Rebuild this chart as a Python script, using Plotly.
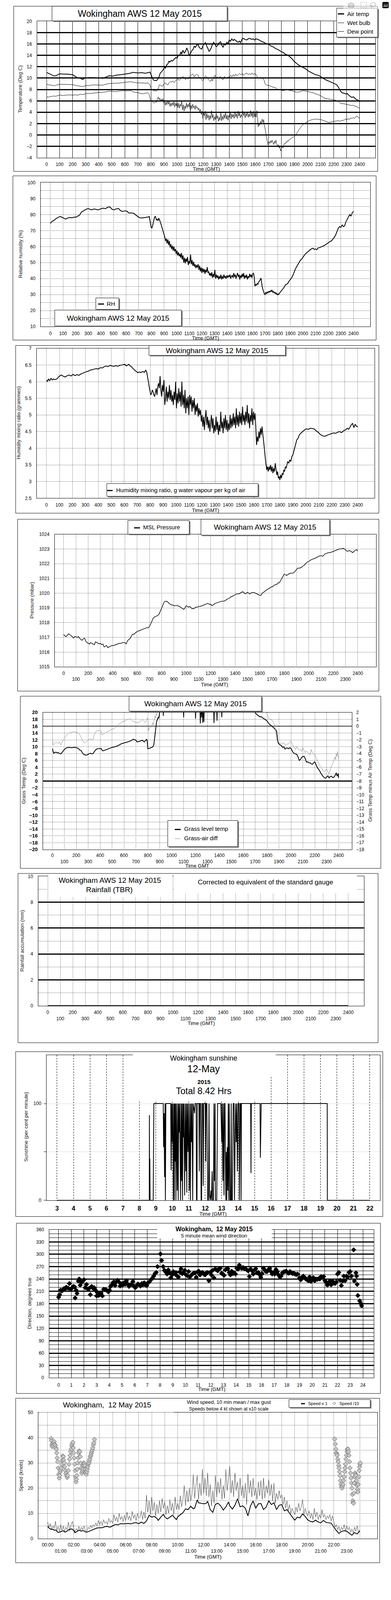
import plotly.graph_objects as go

# ======================= DATA =======================
# Panels 1-6: time axis in "HHMM-like" units (hour*100); panels 7-9: hours.

AIR_TEMP = [(0,11.0),(20,10.8),(40,10.6),(60,10.35),(80,10.5),(100,10.75),(130,10.7),(160,10.7),(200,10.6),(220,10.3),
 (240,10.0),(260,9.95),(277,9.75),(290,9.95),(305,10.05),(330,10.1),(360,10.1),(390,10.1),(411,10.05),(430,9.95),
 (460,10.2),(480,10.4),(507,10.35),(540,10.55),(570,10.6),(603,10.7),(625,10.8),(642,10.85),(660,11.0),(680,10.95),
 (700,10.9),(730,10.95),(757,10.85),(780,10.95),(792,11.05),(805,10.4),(815,9.8),(824,9.6),(843,9.55),(855,9.9),
 (863,10.3),(872,10.9),(882,11.1),(895,11.5),(905,12.0),(911,11.7),(920,12.3),(930,12.5),(938,13.0),(945,12.8),
 (955,13.1),(965,13.0),(978,13.3),(990,13.6),(1000,13.5),(1007,13.9),(1020,14.0),(1030,14.6),(1036,14.2),(1045,14.9),
 (1055,14.4),(1065,14.7),(1075,15.3),(1084,14.8),(1093,14.0),(1103,14.3),(1112,14.8),(1122,15.0),(1132,15.6),(1141,15.4),
 (1150,15.8),(1161,15.9),(1170,15.4),(1180,15.2),(1190,15.1),(1200,15.8),(1210,16.0),(1218,16.3),(1228,15.6),(1237,15.2),
 (1245,14.7),(1253,14.9),(1262,15.3),(1270,15.9),(1280,16.3),(1291,16.0),(1300,15.5),(1314,15.8),(1322,16.2),(1334,16.4),
 (1343,15.8),(1353,15.4),(1362,16.0),(1372,15.8),(1382,16.3),(1391,16.1),(1401,16.7),(1410,16.5),(1420,16.9),(1430,16.6),
 (1439,16.8),(1450,16.6),(1460,16.4),(1468,16.3),(1478,16.5),(1487,16.2),(1497,16.8),(1506,17.0),(1520,16.8),(1535,16.7),
 (1545,16.9),(1560,17.0),(1570,16.8),(1583,16.9),(1595,16.7),(1605,16.9),(1622,16.8),(1635,16.6),(1651,16.4),(1665,16.3),
 (1680,16.1),(1699,16.0),(1715,15.7),(1737,15.5),(1755,15.2),(1775,15.0),(1795,14.7),(1814,14.5),(1830,14.2),(1852,14.0),
 (1866,13.7),(1881,13.4),(1895,13.0),(1910,12.7),(1925,12.4),(1948,12.1),(1965,11.9),(1987,11.6),(2010,11.2),(2035,10.9),
 (2060,10.6),(2080,10.5),(2100,10.3),(2121,9.95),(2140,9.7),(2169,9.4),(2190,9.2),(2208,9.0),(2225,8.8),(2237,8.4),
 (2250,7.8),(2265,7.4),(2280,7.35),(2292,7.2),(2304,7.3),(2320,6.9),(2340,6.6),(2352,6.7),(2370,6.3),(2385,6.1),
 (2395,6.0),(2400,5.8)]

WET_BULB = [(0,8.95),(20,8.8),(40,8.75),(61,8.65),(80,8.8),(104,8.9),(130,8.9),(160,8.9),(200,8.85),(225,8.7),
 (250,8.6),(277,8.5),(290,8.6),(305,8.7),(330,8.7),(354,8.8),(380,8.8),(411,8.8),(430,8.75),(460,8.95),
 (488,9.05),(520,9.1),(546,9.1),(584,9.2),(615,9.3),(642,9.35),(670,9.25),(700,9.15),(730,9.15),(757,9.1),
 (776,9.15),(790,8.9),(805,8.0),(815,7.9),(824,7.8),(843,7.7),(850,7.9),(857,8.2),(864,8.8),(872,8.8),
 (880,8.6),(891,8.6),(900,9.0),(911,9.2),(920,8.9),(930,8.8),(940,9.2),(950,9.4),(959,9.3),(968,9.5),
 (978,9.2),(990,9.6),(1000,9.7),(1007,9.9),(1015,9.6),(1025,9.8),(1035,10.0),(1045,10.3),(1055,10.0),(1065,9.7),
 (1075,10.1),(1084,9.8),(1093,10.0),(1103,10.4),(1112,10.6),(1122,10.7),(1132,10.2),(1141,10.5),(1150,10.7),(1161,10.5),
 (1170,10.1),(1180,10.0),(1190,9.7),(1199,9.5),(1210,10.2),(1218,10.4),(1228,10.2),(1237,9.9),(1247,9.6),(1257,9.4),
 (1265,9.8),(1272,9.5),(1280,10.1),(1290,10.5),(1300,10.0),(1310,10.2),(1320,10.0),(1330,10.3),(1340,9.9),(1353,9.7),
 (1362,10.3),(1372,10.1),(1382,9.9),(1391,10.2),(1401,10.1),(1411,10.5),(1420,10.2),(1430,10.6),(1440,10.3),(1450,10.7),
 (1460,10.4),(1470,10.6),(1478,10.8),(1490,10.6),(1500,10.8),(1510,10.5),(1520,10.7),(1535,10.9),(1545,10.6),(1555,10.8),
 (1565,10.6),(1575,10.9),(1585,10.6),(1593,10.8),(1603,10.7),(1610,10.5),(1618,10.0),(1630,10.0),(1640,10.1),(1651,9.9),
 (1660,10.0),(1668,9.6),(1675,9.0),(1683,8.8),(1700,8.7),(1718,8.6),(1735,8.4),(1756,8.3),(1770,8.0),(1785,7.9),
 (1800,7.85),(1814,7.8),(1830,7.9),(1843,7.95),(1860,7.85),(1881,7.8),(1900,7.6),(1920,7.5),(1940,7.6),(1968,7.8),
 (1985,7.7),(1996,7.7),(2020,7.55),(2045,7.4),(2065,7.2),(2083,7.1),(2100,6.9),(2121,6.6),(2140,6.4),(2160,6.3),
 (2180,6.25),(2198,6.2),(2215,6.1),(2237,5.9),(2256,5.5),(2275,5.5),(2294,5.4),(2310,5.3),(2333,5.2),(2350,5.2),
 (2371,5.0),(2385,4.9),(2400,4.6)]

DEW_POINT = [(0,6.6),(10,6.7),(20,6.65),(30,6.8),(40,6.75),(50,6.85),(70,6.8),(90,6.95),(110,7.0),(130,6.95),
 (150,7.0),(175,7.05),(200,7.0),(220,7.05),(240,7.0),(260,7.15),(280,7.1),(300,7.25),(320,7.3),(345,7.3),
 (370,7.4),(395,7.45),(410,7.5),(430,7.5),(450,7.55),(470,7.65),(490,7.7),(510,7.65),(530,7.6),(550,7.7),
 (570,7.75),(590,7.8),(610,7.75),(630,7.75),(640,7.85),(660,7.6),(680,7.5),(700,7.45),(720,7.3),(740,7.25),
 (760,7.35),(775,7.4),(785,7.2),(795,6.4),(805,5.9),(815,5.75),(825,5.6),(835,5.8),(843,5.75),(850,6.3),
 (856,6.7),(862,6.2),(868,6.5),(874,5.9),(880,6.3),(886,6.0),(892,6.4),(898,5.6),(904,6.1),(910,5.2),
 (916,5.8),(922,5.3),(928,6.1),(934,5.4),(940,5.9),(946,5.0),(952,5.6),(958,5.1),(964,5.7),(970,5.2),
 (976,5.9),(982,4.9),(988,5.6),(994,5.1),(1000,5.8),(1006,4.8),(1012,5.6),(1018,4.7),(1024,5.4),(1030,5.0),
 (1036,6.0),(1042,4.4),(1048,5.3),(1054,4.2),(1060,5.1),(1066,4.6),(1072,5.6),(1078,4.8),(1084,5.4),(1090,4.9),
 (1096,5.7),(1102,4.2),(1108,5.2),(1114,4.6),(1120,5.4),(1126,4.8),(1132,5.1),(1138,4.5),(1144,5.2),(1150,4.7),
 (1156,4.9),(1162,4.4),(1168,4.7),(1174,4.1),(1180,4.5),(1186,3.6),(1192,4.2),(1198,2.9),(1204,3.9),(1210,3.3),
 (1216,4.2),(1222,2.7),(1228,3.8),(1234,3.0),(1240,3.5),(1246,2.6),(1252,3.4),(1258,2.8),(1264,4.3),(1270,3.0),
 (1276,3.6),(1282,2.5),(1288,3.2),(1294,2.7),(1300,3.8),(1306,2.9),(1312,3.4),(1318,2.4),(1324,3.1),(1330,2.6),
 (1336,3.9),(1342,2.5),(1348,3.3),(1354,2.7),(1360,3.6),(1366,2.9),(1372,4.0),(1378,2.8),(1384,3.5),(1390,2.6),
 (1396,3.4),(1402,3.0),(1408,3.9),(1414,2.8),(1420,3.7),(1426,3.1),(1432,3.6),(1438,2.9),(1444,4.1),(1450,3.2),
 (1456,3.7),(1462,2.9),(1468,4.2),(1474,3.3),(1480,3.9),(1486,3.0),(1492,3.6),(1498,3.2),(1504,4.2),(1510,3.4),
 (1516,4.0),(1522,3.0),(1528,3.8),(1534,3.3),(1540,4.1),(1546,3.1),(1552,3.7),(1558,3.2),(1564,4.3),(1570,3.3),
 (1576,3.9),(1582,3.0),(1588,4.2),(1594,3.2),(1600,3.9),(1606,3.1),(1612,4.3),(1618,2.9),(1622,1.4),(1628,2.0),
 (1634,1.7),(1640,2.4),(1646,2.0),(1652,2.8),(1658,2.2),(1664,2.7),(1668,1.8),(1674,1.2),(1680,0.4),(1686,-0.6),
 (1692,-1.2),(1698,-1.75),(1704,-1.2),(1710,-1.5),(1716,-1.0),(1722,-1.4),(1728,-0.9),(1734,-1.3),(1740,-1.7),(1746,-1.1),
 (1752,-1.5),(1758,-0.9),(1764,-1.6),(1770,-2.0),(1776,-1.7),(1782,-2.3),(1788,-2.1),(1794,-2.8),(1800,-2.4),(1806,-2.0),
 (1812,-2.3),(1818,-1.8),(1824,-1.5),(1830,-1.6),(1836,-1.2),(1842,-1.3),(1848,-1.0),(1854,-1.1),(1860,-0.8),(1870,-0.7),
 (1880,-0.5),(1890,-0.4),(1900,-0.2),(1910,0.0),(1920,0.4),(1930,0.8),(1940,1.1),(1950,1.4),(1960,1.7),(1970,1.9),
 (1980,2.0),(1990,2.2),(2000,2.35),(2010,2.5),(2020,2.6),(2040,2.7),(2060,2.8),(2080,2.75),(2100,2.7),(2115,2.6),
 (2130,2.45),(2145,2.3),(2160,2.2),(2175,2.25),(2190,2.35),(2205,2.4),(2220,2.45),(2235,2.5),(2250,2.4),(2265,2.55),
 (2280,2.6),(2292,2.85),(2300,2.6),(2310,2.9),(2320,2.7),(2330,3.0),(2340,2.85),(2350,3.1),(2360,2.9),(2370,3.2),
 (2380,3.35),(2390,3.0),(2400,3.0)]

REL_HUM = [(0,74.5),(10,75.5),(20,76),(30,76.5),(45,77.5),(60,78.2),(75,78.8),(85,78.6),(100,78.0),(110,77.5),
 (120,77.2),(135,77.8),(150,78.1),(170,78.0),(190,78.4),(200,78.3),(215,79.0),(230,79.6),(245,81.5),(260,82.3),
 (280,83.2),(300,83.8),(315,83.2),(330,83.0),(345,83.5),(360,83.3),(375,82.9),(390,83.3),(405,83.8),(420,84.0),
 (435,83.7),(450,84.4),(465,84.8),(475,84.5),(490,83.2),(505,83.0),(520,83.5),(540,83.8),(555,82.5),(570,82.0),
 (590,82.3),(605,82.2),(620,81.0),(640,81.0),(660,80.8),(680,79.5),(700,78.3),(720,77.8),(740,78.0),(760,78.2),
 (775,78.5),(783,78.8),(790,76),(798,72),(803,71.5),(808,72.5),(815,75),(825,78.5),(832,78.8),(840,76.5),
 (846,77.0),(852,76.2),(858,77.8),(864,76.8),(870,75.5),(876,74),(882,72.5),(888,70.5),(894,69.5),(900,68.0),
 (906,66),(912,63.5),(918,65),(924,62),(930,64.5),(936,61),(942,63.5),(948,59.5),(954,61.5),(960,58.5),
 (966,60.5),(972,57.5),(978,60.0),(984,57),(990,58.5),(996,55.5),(1002,57.5),(1008,54.5),(1014,56.5),(1020,54.0),
 (1026,55.5),(1032,53.0),(1038,56.0),(1044,52.0),(1050,54.5),(1056,50.0),(1062,53.0),(1068,49.5),(1074,52.5),(1080,50.5),
 (1086,53.5),(1092,48.5),(1098,51.0),(1104,49.5),(1110,55.0),(1116,49.0),(1122,51.5),(1128,48.0),(1134,50.5),(1140,47.5),
 (1146,49.0),(1152,46.5),(1158,48.5),(1164,47.0),(1170,49.0),(1176,45.5),(1182,48.0),(1188,44.5),(1194,47.0),(1200,43.5),
 (1206,46.5),(1212,44.0),(1218,46.0),(1224,43.0),(1230,45.5),(1236,44.0),(1242,47.2),(1248,43.5),(1254,44.5),(1260,42.0),
 (1266,43.5),(1272,41.5),(1278,44.0),(1284,40.5),(1290,43.0),(1296,41.0),(1302,45.5),(1308,40.0),(1314,42.5),(1320,40.5),
 (1326,42.0),(1332,39.5),(1338,41.5),(1344,40.0),(1350,42.5),(1356,39.5),(1362,41.5),(1368,40.0),(1374,42.5),(1380,40.5),
 (1386,41.5),(1392,40.0),(1398,42.0),(1404,40.5),(1410,42.0),(1416,41.0),(1422,42.5),(1428,40.0),(1434,41.5),(1440,42.0),
 (1446,40.5),(1452,43.5),(1458,41.0),(1464,42.5),(1470,40.0),(1476,42.0),(1482,43.5),(1488,41.0),(1494,42.5),(1500,39.5),
 (1506,42.0),(1512,40.5),(1518,43.0),(1524,41.0),(1530,43.5),(1536,40.0),(1542,42.0),(1548,40.5),(1554,42.5),(1560,39.5),
 (1566,41.5),(1572,40.5),(1578,43.0),(1584,41.0),(1590,42.5),(1596,40.5),(1602,43.0),(1608,43.5),(1614,41.0),(1620,35.3),
 (1626,36.5),(1632,35.8),(1638,37.0),(1644,36.5),(1650,38.0),(1656,38.5),(1662,39.5),(1668,40.3),(1672,38.0),(1676,35.5),
 (1682,33.5),(1688,32.0),(1694,30.5),(1700,30.0),(1706,31.5),(1712,30.5),(1718,31.8),(1724,31.0),(1730,32.2),(1736,31.5),
 (1742,32.5),(1748,31.8),(1754,33.0),(1760,31.5),(1766,32.0),(1772,31.0),(1778,31.5),(1784,30.5),(1790,31.0),(1796,29.8),
 (1802,30.5),(1808,30.0),(1814,31.0),(1820,31.5),(1830,32.5),(1840,33.5),(1850,34.5),(1860,36.0),(1870,36.5),(1880,37.0),
 (1890,38.5),(1900,39.5),(1910,40.5),(1920,42.0),(1930,44.0),(1940,46.0),(1950,47.5),(1960,48.8),(1970,50.0),(1980,51.5),
 (1990,52.2),(2000,53.5),(2010,54.5),(2020,55.5),(2035,56.5),(2050,57.5),(2065,58.5),(2080,59.0),(2090,58.2),(2100,58.5),
 (2110,58.0),(2120,59.2),(2135,59.5),(2150,60.0),(2165,60.5),(2180,61.3),(2195,62.0),(2210,63.0),(2225,63.5),(2240,65.0),
 (2250,66.0),(2260,67.5),(2270,69.5),(2280,71.5),(2290,72.5),(2300,72.0),(2310,73.5),(2320,72.5),(2330,73.0),(2340,75.5),
 (2350,77.0),(2360,78.5),(2370,80.0),(2380,79.0),(2390,81.0),(2400,82.0)]

MIX_RATIO = [(0,6.05),(8,6.0),(15,6.08),(25,6.03),(35,6.1),(45,6.05),(55,6.08),(65,6.06),(80,6.08),(90,6.12),
 (100,6.17),(115,6.2),(130,6.16),(145,6.14),(160,6.18),(175,6.2),(190,6.17),(205,6.22),(220,6.18),(235,6.21),
 (250,6.19),(265,6.23),(280,6.25),(295,6.28),(310,6.3),(325,6.32),(340,6.35),(355,6.36),(370,6.38),(385,6.39),
 (400,6.38),(415,6.42),(430,6.41),(445,6.45),(460,6.47),(475,6.45),(490,6.49),(505,6.47),(520,6.46),(535,6.48),
 (550,6.46),(565,6.49),(580,6.5),(595,6.51),(605,6.52),(615,6.47),(625,6.5),(635,6.52),(645,6.47),(655,6.45),
 (665,6.4),(675,6.36),(685,6.33),(695,6.3),(705,6.27),(715,6.29),(725,6.27),(735,6.29),(745,6.3),(755,6.28),
 (765,6.35),(772,6.3),(780,6.15),(786,6.0),(792,5.85),(798,5.7),(804,5.6),(810,5.65),(816,5.75),(822,5.7),
 (828,5.6),(834,5.55),(840,5.7),(846,5.8),(852,5.6),(858,5.85),(864,5.95),(870,5.8),(876,6.17),(882,5.75),
 (888,5.55),(894,5.9),(900,5.7),(906,6.05),(912,5.3),(918,5.5),(924,5.85),(930,5.4),(936,5.7),(942,5.5),
 (948,5.9),(954,5.45),(960,5.75),(966,5.4),(972,5.6),(978,5.3),(984,5.7),(990,5.45),(996,6.0),(1002,5.2),
 (1008,5.65),(1014,5.35),(1020,5.8),(1026,5.4),(1032,5.7),(1038,5.25),(1044,6.0),(1050,5.3),(1056,5.6),(1062,5.2),
 (1068,5.75),(1074,5.05),(1080,5.5),(1086,5.2),(1092,5.55),(1098,5.0),(1104,5.6),(1110,5.3),(1116,5.55),(1122,5.1),
 (1128,5.45),(1134,5.2),(1140,5.5),(1146,5.0),(1152,5.3),(1158,5.1),(1164,5.35),(1170,4.95),(1176,5.2),(1182,5.0),
 (1188,5.15),(1194,4.8),(1200,5.0),(1206,4.65),(1212,4.95),(1218,4.55),(1224,4.9),(1230,5.15),(1236,4.7),(1242,4.95),
 (1248,4.6),(1254,4.85),(1260,4.5),(1266,4.8),(1272,5.0),(1278,4.6),(1284,4.9),(1290,4.45),(1296,4.7),(1302,4.5),
 (1308,4.95),(1314,4.55),(1320,4.8),(1326,4.4),(1332,4.7),(1338,4.5),(1344,5.1),(1350,4.6),(1356,4.8),(1362,4.45),
 (1368,4.9),(1374,4.6),(1380,5.0),(1386,4.55),(1392,4.85),(1398,4.5),(1404,4.75),(1410,4.55),(1416,5.0),(1422,4.6),
 (1428,4.9),(1434,4.65),(1440,5.05),(1446,4.7),(1452,4.95),(1458,4.6),(1464,5.2),(1470,4.7),(1476,5.0),(1482,4.65),
 (1488,5.1),(1494,4.75),(1500,5.05),(1506,4.7),(1512,5.25),(1518,4.8),(1524,5.0),(1530,4.7),(1536,5.1),(1542,4.8),
 (1548,5.3),(1554,4.75),(1560,5.05),(1566,4.6),(1572,5.0),(1578,4.8),(1584,5.2),(1590,4.7),(1596,5.1),(1602,4.85),
 (1608,5.05),(1614,4.65),(1620,4.1),(1626,4.35),(1632,4.2),(1638,4.5),(1644,4.3),(1650,4.6),(1656,4.4),(1662,4.65),
 (1668,4.45),(1674,4.2),(1680,4.0),(1686,3.75),(1692,3.55),(1698,3.35),(1704,3.45),(1710,3.3),(1716,3.45),(1722,3.35),
 (1728,3.5),(1734,3.3),(1740,3.45),(1746,3.25),(1752,3.4),(1758,3.3),(1764,3.55),(1770,3.35),(1776,3.2),(1782,3.3),
 (1788,3.1),(1794,3.15),(1800,3.05),(1806,3.2),(1812,3.1),(1818,3.25),(1824,3.2),(1830,3.35),(1836,3.3),(1842,3.45),
 (1848,3.4),(1854,3.5),(1860,3.6),(1868,3.55),(1876,3.65),(1884,3.6),(1892,3.75),(1900,3.8),(1910,3.95),(1920,4.1),
 (1930,4.25),(1940,4.3),(1950,4.4),(1960,4.45),(1975,4.5),(1990,4.55),(2005,4.58),(2020,4.57),(2035,4.6),(2050,4.59),
 (2065,4.58),(2080,4.52),(2095,4.48),(2110,4.42),(2125,4.38),(2140,4.36),(2155,4.37),(2170,4.4),(2185,4.42),(2200,4.44),
 (2215,4.46),(2230,4.45),(2245,4.48),(2260,4.5),(2275,4.47),(2290,4.52),(2305,4.55),(2320,4.6),(2330,4.57),(2340,4.63),
 (2350,4.7),(2360,4.75),(2370,4.62),(2380,4.72),(2390,4.66),(2400,4.64)]

MSL_PRESSURE = [(0,1017.2),(10,1017.1),(20,1017.05),(30,1017.15),(40,1017.25),(55,1017.15),(70,1017.05),(80,1016.95),
 (90,1017.05),(100,1017.05),(110,1017.0),(120,1017.05),(135,1016.9),(150,1016.8),(160,1016.9),(170,1016.95),(180,1016.75),
 (190,1016.65),(200,1016.6),(210,1016.55),(220,1016.65),(230,1016.6),(240,1016.55),(250,1016.5),(260,1016.7),(270,1016.65),
 (280,1016.6),(290,1016.55),(300,1016.6),(310,1016.5),(320,1016.55),(330,1016.35),(340,1016.4),(350,1016.45),(360,1016.3),
 (370,1016.35),(380,1016.4),(395,1016.45),(410,1016.45),(425,1016.5),(440,1016.55),(455,1016.6),(470,1016.6),(485,1016.65),
 (500,1016.65),(510,1016.55),(520,1016.75),(530,1016.85),(540,1016.9),(550,1017.05),(560,1017.2),(570,1017.2),(585,1017.3),
 (600,1017.4),(615,1017.45),(630,1017.5),(645,1017.55),(660,1017.6),(675,1017.65),(690,1017.65),(700,1017.75),(710,1017.9),
 (720,1018.1),(730,1018.3),(745,1018.4),(760,1018.45),(770,1018.5),(780,1018.6),(790,1018.8),(800,1019.0),(810,1019.2),
 (820,1019.4),(830,1019.45),(840,1019.45),(850,1019.4),(860,1019.3),(870,1019.25),(880,1019.2),(890,1019.2),(900,1019.15),
 (915,1019.15),(930,1019.15),(945,1019.1),(960,1019.0),(970,1018.95),(980,1018.9),(990,1019.0),(1000,1019.15),(1010,1019.1),
 (1020,1019.05),(1030,1019.1),(1040,1019.0),(1050,1018.95),(1060,1018.95),(1070,1019.0),(1080,1019.05),(1090,1019.05),
 (1100,1019.1),(1115,1019.1),(1130,1019.15),(1145,1019.2),(1160,1019.25),(1175,1019.3),(1190,1019.25),(1200,1019.25),
 (1210,1019.15),(1220,1019.2),(1235,1019.3),(1250,1019.35),(1270,1019.4),(1290,1019.45),(1305,1019.45),(1320,1019.5),
 (1335,1019.6),(1350,1019.65),(1365,1019.75),(1380,1019.8),(1390,1019.85),(1400,1019.9),(1410,1019.95),(1420,1019.95),
 (1430,1019.95),(1440,1020.0),(1450,1020.05),(1460,1020.1),(1470,1020.05),(1480,1019.95),(1490,1020.0),(1500,1020.05),
 (1510,1020.0),(1520,1019.95),(1535,1020.05),(1550,1020.05),(1565,1020.0),(1580,1019.95),(1590,1019.9),(1600,1019.85),
 (1610,1019.85),(1620,1020.0),(1630,1020.05),(1645,1020.15),(1660,1020.25),(1675,1020.3),(1690,1020.4),(1705,1020.45),
 (1720,1020.55),(1730,1020.6),(1740,1020.6),(1750,1020.7),(1760,1020.7),(1770,1020.85),(1780,1021.0),(1790,1021.15),
 (1800,1021.3),(1810,1021.25),(1820,1021.2),(1835,1021.3),(1850,1021.35),(1865,1021.35),(1880,1021.4),(1895,1021.55),
 (1910,1021.7),(1925,1021.7),(1940,1021.75),(1955,1021.85),(1970,1021.95),(1985,1022.1),(2000,1022.15),(2015,1022.25),
 (2030,1022.3),(2045,1022.35),(2060,1022.4),(2080,1022.5),(2100,1022.55),(2115,1022.5),(2130,1022.65),(2145,1022.7),
 (2160,1022.75),(2175,1022.75),(2190,1022.8),(2205,1022.85),(2220,1022.9),(2235,1022.95),(2250,1023.0),(2265,1023.0),
 (2280,1023.05),(2290,1023.0),(2300,1022.95),(2310,1022.85),(2320,1022.85),(2330,1022.9),(2340,1022.85),(2350,1022.8),
 (2360,1022.75),(2370,1022.85),(2380,1022.9),(2390,1022.95),(2400,1022.85)]

GRASS_TEMP = [(0,9.45),(5,8.9),(10,8.1),(20,8.3),(30,8.4),(40,8.2),(50,8.3),(60,8.0),(70,7.9),(80,8.3),(90,8.8),
 (100,9.2),(110,9.5),(120,9.7),(140,9.8),(160,9.7),(180,9.8),(200,9.75),(210,9.6),(220,9.4),(230,9.0),(240,8.9),
 (250,8.3),(260,7.8),(270,7.7),(280,7.5),(290,7.6),(300,7.8),(310,8.0),(320,8.1),(330,7.9),(340,8.0),(350,8.5),
 (360,9.0),(370,9.3),(380,9.4),(395,9.45),(410,9.45),(415,9.0),(425,8.8),(440,9.0),(455,9.2),(470,9.4),(485,9.6),
 (500,9.8),(515,9.9),(530,10.1),(550,10.3),(565,10.6),(580,10.9),(600,11.1),(620,11.3),(640,11.5),(660,11.8),
 (680,12.2),(690,12.0),(700,11.9),(710,11.4),(720,11.5),(735,11.6),(750,11.9),(760,11.7),(770,11.4),(780,11.8),
 (790,12.2),(795,11.5),(800,9.4),(810,9.5),(820,9.6),(830,9.8),(840,9.9),(850,10.5),(856,12.3),(862,14.5),
 (868,16.0),(874,17.5),(880,17.8),(886,18.6),(892,18.3),(898,19.5),(905,21.5),(915,24),(925,24),(930,19.0),
 (935,24),(1000,24),(1095,24),(1100,18.6),(1105,24),(1195,24),(1200,18.2),(1205,24),(1235,24),(1240,16.8),
 (1245,24),(1250,18.5),(1255,24),(1260,17.0),(1265,24),(1270,17.2),(1275,24),(1350,24),(1355,16.9),(1360,24),
 (1375,24),(1380,17.6),(1385,24),(1415,24),(1420,18.6),(1425,24),(1690,24),(1700,20.0),(1710,19.5),(1720,19.2),
 (1730,19.0),(1740,18.7),(1750,18.8),(1760,18.5),(1770,18.2),(1780,18.0),(1790,17.8),(1800,17.5),(1810,17.0),
 (1820,16.5),(1830,16.3),(1840,16.0),(1850,15.8),(1860,15.4),(1870,15.0),(1880,14.5),(1885,13.0),(1890,11.5),
 (1895,11.0),(1900,10.8),(1910,10.5),(1920,10.3),(1930,9.8),(1940,10.0),(1950,9.3),(1960,9.6),(1970,9.6),
 (1980,9.4),(1990,9.7),(2000,9.5),(2010,8.9),(2020,8.2),(2030,8.0),(2040,7.9),(2050,7.7),(2060,7.0),(2070,6.0),
 (2080,6.3),(2090,6.9),(2100,7.1),(2110,7.2),(2120,6.5),(2130,5.5),(2140,5.6),(2150,5.3),(2160,5.3),(2170,5.0),
 (2180,4.9),(2190,5.3),(2200,5.6),(2210,4.8),(2220,4.0),(2230,3.5),(2240,3.0),(2250,2.3),(2260,1.8),(2270,1.3),
 (2280,1.0),(2290,0.8),(2300,1.2),(2310,1.5),(2320,0.9),(2330,1.3),(2340,1.4),(2350,1.0),(2360,1.1),(2370,1.6),
 (2380,2.4),(2385,1.6),(2390,1.5),(2395,2.2),(2400,0.9)]

GRASS_AIR_DIFF = [(0,-1.7),(5,-2.6),(10,-2.75),(20,-2.5),(30,-2.3),(40,-2.4),(50,-2.55),(60,-2.3),(70,-2.75),(80,-2.4),
 (90,-2.0),(100,-1.8),(110,-1.5),(120,-1.25),(130,-1.1),(140,-1.0),(150,-0.95),(165,-0.9),(180,-0.8),(190,-0.85),
 (200,-0.9),(210,-0.95),(220,-1.0),(230,-1.3),(240,-1.6),(250,-2.0),(260,-2.3),(270,-2.4),(280,-2.35),(290,-2.2),
 (300,-2.15),(310,-1.85),(320,-1.8),(330,-2.0),(340,-1.95),(350,-1.3),(360,-0.9),(370,-0.7),(385,-0.65),(400,-0.6),
 (410,-0.8),(415,-1.3),(425,-1.15),(440,-1.05),(455,-0.85),(470,-0.75),(490,-0.5),(505,-0.45),(520,-0.3),(535,-0.1),
 (550,0.2),(565,0.35),(580,0.6),(600,0.7),(620,0.9),(640,1.0),(650,1.1),(660,1.0),(675,0.7),(690,0.6),(705,0.55),
 (720,0.5),(735,0.65),(750,0.9),(760,1.0),(770,0.7),(780,0.5),(790,0.9),(800,1.2),(805,-0.7),(810,-0.4),(815,0.0),
 (820,0.1),(825,-0.2),(830,-0.1),(835,0.3),(840,0.5),(845,0.2),(850,0.6),(855,0.9),(860,1.5),(865,1.2),(870,1.8),
 (875,1.6),(880,2.3),(890,4),(1780,4),(1790,2.1),(1795,1.9),(1800,1.8),(1805,1.5),(1810,1.4),(1815,1.2),(1820,1.0),
 (1830,0.95),(1840,0.9),(1850,0.6),(1860,0.3),(1865,0.0),(1870,-0.5),(1875,-1.2),(1880,-2.0),(1885,-2.2),(1890,-2.2),
 (1900,-2.3),(1910,-2.5),(1920,-2.45),(1930,-2.6),(1940,-2.4),(1950,-2.7),(1960,-2.8),(1970,-2.6),(1980,-2.55),
 (1990,-2.4),(2000,-2.2),(2010,-2.6),(2020,-2.9),(2030,-3.2),(2040,-3.4),(2050,-3.0),(2060,-3.3),(2070,-3.5),
 (2080,-3.4),(2090,-3.7),(2100,-3.2),(2110,-3.5),(2120,-3.9),(2130,-3.6),(2140,-3.8),(2150,-4.0),(2160,-4.2),
 (2170,-3.4),(2180,-3.9),(2190,-4.1),(2200,-4.2),(2210,-4.6),(2220,-5.0),(2230,-5.4),(2240,-5.7),(2250,-5.9),
 (2260,-6.2),(2270,-6.5),(2280,-6.7),(2290,-6.4),(2300,-6.3),(2310,-6.6),(2320,-7.0),(2330,-6.3),(2340,-5.8),
 (2350,-5.5),(2360,-5.0),(2370,-4.5),(2375,-4.9),(2380,-4.0),(2385,-4.4),(2390,-3.7),(2395,-4.2),(2400,-4.8)]

RAINFALL = [(0,0.0),(600,0.0),(1200,0.0),(1800,0.0),(2400,0.0)]

SUNSHINE = [(3.0,0),(8.60,0),(8.61,88),(8.62,0),(8.635,43),(8.65,0),(8.84,0),(8.88,100),(9.45,100),(9.47,55),
 (9.50,90),(9.53,24),(9.56,100),(9.58,0),(9.61,100),(9.90,100),(9.93,31),(9.96,100),(10.00,60),(10.02,100),
 (10.07,0),(10.09,100),(10.12,0),(10.14,100),(10.17,40),(10.19,100),(10.22,0),(10.25,100),(10.30,10),(10.33,100),
 (10.36,0),(10.39,100),(10.42,70),(10.45,100),(10.50,0),(10.53,100),(10.56,20),(10.59,100),(10.62,0),(10.65,100),
 (10.68,65),(10.70,100),(10.75,5),(10.78,100),(10.82,30),(10.85,100),(10.88,8),(10.91,100),(10.95,50),(10.98,100),
 (11.03,10),(11.06,100),(11.10,0),(11.13,100),(11.17,60),(11.20,100),(11.24,0),(11.27,100),(11.35,90),(11.38,100),
 (11.45,100),(11.47,0),(11.50,0),(11.52,100),(11.62,100),(11.64,30),(11.67,100),(11.72,100),(11.75,0),(11.78,0),
 (11.80,100),(11.85,100),(11.88,15),(11.91,100),(12.00,100),(12.03,40),(12.05,100),(12.10,100),(12.15,0),(12.20,0),
 (12.23,100),(12.26,5),(12.30,0),(12.35,10),(12.38,0),(12.42,30),(12.45,0),(12.50,0),(12.53,100),(12.56,20),
 (12.60,100),(12.62,0),(12.70,0),(12.75,100),(12.95,100),(13.00,60),(13.03,100),(13.07,20),(13.10,100),(13.14,5),
 (13.17,100),(13.20,100),(13.25,0),(13.28,50),(13.31,0),(13.34,55),(13.37,10),(13.40,100),(13.43,0),(13.46,100),
 (13.50,0),(13.55,0),(13.58,100),(13.60,0),(13.65,0),(13.70,100),(13.75,100),(13.78,0),(13.82,70),(13.85,100),
 (13.88,60),(13.92,100),(13.95,30),(14.00,100),(14.05,100),(14.08,0),(14.12,100),(14.16,100),(14.18,0),(14.20,100),
 (14.76,100),(14.78,28),(14.80,100),(15.33,100),(15.35,44),(15.38,80),(15.40,100),(19.41,100),(19.42,0),(22.0,0)]

WIND_DIR = [(0.0,196),(0.08,202),(0.15,213),(0.25,211),(0.33,213),(0.42,217),(0.5,215),(0.6,220),(0.75,218),(0.85,229),
 (0.95,215),(1.05,218),(1.15,222),(1.25,221),(1.3,194),(1.38,213),(1.45,205),(1.55,235),(1.62,240),(1.7,225),
 (1.78,233),(1.85,233),(1.92,236),(2.0,238),(2.1,219),(2.2,227),(2.3,216),(2.4,217),(2.5,202),(2.6,222),
 (2.7,218),(2.8,219),(2.9,213),(3.0,199),(3.05,207),(3.15,200),(3.25,202),(3.35,206),(3.45,199),(3.55,215),
 (3.65,214),(3.75,214),(3.85,211),(3.92,209),(4.0,213),(4.1,222),(4.2,226),(4.28,231),(4.35,233),(4.45,224),
 (4.55,233),(4.65,237),(4.75,233),(4.85,223),(4.95,228),(5.05,225),(5.15,231),(5.25,227),(5.35,236),(5.45,228),
 (5.55,222),(5.65,225),(5.75,228),(5.85,234),(5.95,222),(6.05,219),(6.15,224),(6.25,228),(6.35,226),(6.45,223),
 (6.55,229),(6.65,226),(6.75,231),(6.85,225),(6.95,224),(7.05,231),(7.15,233),(7.3,239),(7.4,242),(7.5,247),
 (7.6,253),(7.7,256),(7.8,270),(8.03,301),(8.12,285),(8.24,270),(8.35,261),(8.45,257),(8.55,252),(8.65,262),
 (8.75,255),(8.85,243),(8.95,250),(9.05,258),(9.15,253),(9.25,256),(9.35,247),(9.45,245),(9.55,257),(9.65,265),
 (9.75,253),(9.85,256),(9.95,261),(10.05,250),(10.15,248),(10.25,258),(10.35,245),(10.45,249),(10.55,252),(10.65,254),
 (10.75,255),(10.85,244),(10.95,257),(11.05,259),(11.15,250),(11.25,255),(11.35,256),(11.45,252),(11.55,250),(11.65,255),
 (11.75,256),(11.85,236),(11.95,256),(12.05,250),(12.15,261),(12.25,243),(12.35,264),(12.45,262),(12.55,260),(12.65,265),
 (12.75,266),(12.85,254),(12.95,252),(13.05,249),(13.15,262),(13.25,265),(13.35,265),(13.45,256),(13.55,250),(13.65,259),
 (13.75,253),(13.85,255),(13.95,252),(14.05,266),(14.15,264),(14.25,274),(14.35,268),(14.45,266),(14.55,268),(14.65,265),
 (14.75,265),(14.85,262),(14.95,260),(15.05,246),(15.15,264),(15.25,260),(15.35,252),(15.45,262),(15.55,265),(15.65,255),
 (15.75,256),(15.85,251),(15.95,244),(16.05,253),(16.15,266),(16.25,262),(16.35,258),(16.45,258),(16.55,263),(16.65,266),
 (16.75,258),(16.85,252),(16.95,256),(17.05,252),(17.15,263),(17.25,258),(17.35,250),(17.45,245),(17.55,247),(17.65,255),
 (17.75,257),(17.85,258),(17.95,259),(18.05,256),(18.15,254),(18.25,258),(18.35,256),(18.45,253),(18.55,254),(18.65,252),
 (18.75,251),(18.85,252),(19.0,243),(19.1,238),(19.2,244),(19.3,247),(19.4,244),(19.5,240),(19.6,238),(19.7,236),
 (19.8,245),(19.9,234),(20.0,240),(20.1,243),(20.2,236),(20.3,240),(20.4,239),(20.5,241),(20.6,240),(20.7,246),
 (20.8,245),(20.9,246),(21.0,236),(21.1,232),(21.2,225),(21.3,232),(21.4,235),(21.5,226),(21.6,235),(21.7,230),
 (21.8,229),(21.9,233),(22.0,252),(22.1,256),(22.2,237),(22.3,224),(22.4,235),(22.5,247),(22.6,236),(22.7,247),
 (22.8,245),(22.9,256),(23.0,258),(23.1,247),(23.27,311),(23.33,235),(23.45,255),(23.5,247),(23.55,227),(23.6,200),
 (23.75,187),(23.82,181),(23.9,175)]

WIND_MEAN = [(0,4.8),(0.1,4.2),(0.2,3.8),(0.3,3.6),(0.4,3.7),(0.5,3.3),(0.6,3.4),(0.7,3.0),(0.8,2.4),(0.9,2.5),
 (1.0,2.7),(1.1,2.9),(1.2,3.1),(1.3,2.6),(1.4,2.6),(1.5,3.0),(1.6,3.4),(1.7,3.6),(1.8,3.8),(1.9,3.7),(2.0,3.2),
 (2.1,2.3),(2.2,2.6),(2.3,3.0),(2.4,3.3),(2.5,3.1),(2.6,2.9),(2.7,3.2),(2.8,3.0),(2.9,2.6),(3.0,2.5),(3.2,2.9),
 (3.4,3.3),(3.6,3.8),(3.8,4.2),(4.0,4.3),(4.2,4.3),(4.4,4.7),(4.6,4.8),(4.8,4.5),(5.0,5.1),(5.2,5.6),(5.4,5.4),
 (5.6,5.9),(5.8,5.8),(6.0,5.9),(6.2,6.0),(6.4,5.8),(6.6,6.2),(6.8,6.3),(7.0,5.9),(7.2,6.5),(7.4,6.0),(7.6,7.0),
 (7.8,9.2),(8.0,8.5),(8.2,8.8),(8.4,8.0),(8.5,7.2),(8.7,8.5),(8.9,9.6),(9.0,8.6),(9.2,7.8),(9.4,8.5),(9.6,9.3),
 (9.7,8.6),(9.9,7.5),(10.0,8.6),(10.2,9.5),(10.4,10.2),(10.6,11.8),(10.8,11.5),(11.0,12.8),(11.2,11.8),(11.3,12.0),
 (11.5,15.4),(11.6,14.2),(11.8,14.0),(12.0,13.8),(12.2,14.0),(12.3,14.8),(12.5,11.5),(12.7,10.4),(12.9,13.6),(13.1,14.0),
 (13.3,13.0),(13.5,11.3),(13.7,12.5),(13.9,14.5),(14.0,13.0),(14.2,11.7),(14.4,13.2),(14.6,15.8),(14.8,12.6),(15.0,13.0),
 (15.2,12.0),(15.4,9.0),(15.6,13.0),(15.8,14.9),(16.0,12.0),(16.2,13.8),(16.4,13.9),(16.6,11.5),(16.8,12.5),(17.0,15.0),
 (17.2,13.5),(17.4,14.2),(17.6,11.5),(17.8,13.2),(18.0,13.5),(18.2,11.0),(18.4,11.5),(18.6,10.0),(18.8,8.6),(19.0,7.3),
 (19.2,8.5),(19.4,8.2),(19.6,9.8),(19.8,8.8),(20.0,7.4),(20.2,6.8),(20.4,6.6),(20.6,7.3),(20.8,6.6),(21.0,6.2),
 (21.2,7.2),(21.4,6.4),(21.6,6.3),(21.8,6.1),(22.0,4.6),(22.2,3.2),(22.4,2.0),(22.6,2.8),(22.8,3.1),(23.0,2.9),
 (23.2,2.1),(23.4,1.3),(23.6,2.4),(23.8,1.8),(24.0,3.0)]

# max gust, one row per hour, samples every 6 minutes (first row starts at 00:00 and has 11 values)
WIND_GUST_ROWS = [
 [6.5,4.5,6.0,3.5,5.0,4.0,6.8,3.0,4.8,2.8,5.5],
 [3.2,5.0,2.6,4.5,3.5,6.5,3.0,5.5,6.8,4.2],
 [2.5,4.0,3.0,4.8,3.2,4.5,3.5,5.0,3.0,2.8],
 [4.5,3.8,5.2,4.2,5.5,4.8,6.2,5.0,7.2,5.5],
 [6.8,5.2,7.5,6.0,6.8,5.5,8.0,6.3,7.2,6.0],
 [9.5,7.0,8.5,6.5,10.0,7.5,8.8,6.8,9.2,7.0],
 [10.5,7.5,9.0,7.0,10.8,8.0,9.5,7.2,10.0,8.0],
 [8.5,11.0,7.5,10.5,8.0,17.2,10.5,15.0,9.5,16.5],
 [11.0,14.5,9.0,13.5,10.0,15.0,10.5,16.0,12.0,14.5],
 [9.5,13.0,10.0,15.5,11.0,14.0,9.5,16.5,11.5,14.0],
 [11.5,17.0,12.5,15.5,21.0,13.0,19.0,14.5,20.0,15.0],
 [17.5,25.5,16.0,21.0,25.0,15.5,22.0,17.0,27.5,18.0],
 [24.0,17.0,26.0,16.5,21.5,13.0,19.0,14.0,25.0,16.5],
 [22.5,18.0,24.0,15.5,21.0,16.0,27.5,19.0,24.5,28.8],
 [18.0,23.0,16.5,26.0,19.0,22.5,15.5,24.0,17.0,21.0],
 [16.0,22.0,13.5,25.5,18.0,23.0,16.5,24.0,17.0,20.0],
 [15.5,22.5,17.0,23.0,15.5,24.0,16.0,21.0,18.0,23.5],
 [17.0,21.5,15.0,22.0,14.0,18.0,15.5,19.0,16.0,17.5],
 [13.5,16.5,12.0,15.0,11.0,13.5,10.0,12.0,10.5,9.5],
 [12.5,10.5,14.0,11.0,12.5,15.5,9.5,12.0,10.0,9.0],
 [11.0,8.0,10.0,7.5,12.0,8.5,10.5,7.5,9.5,8.0],
 [11.5,8.5,9.5,7.5,9.0,8.0,9.5,7.0,9.0,6.5],
 [4.5,5.5,3.5,4.8,2.8,4.5,3.5,5.5,3.0,5.0],
 [3.5,4.5,2.5,3.8,2.0,4.5,3.0,5.0,2.5,3.5]]

# speeds below 4 kt, shown at x10 scale
WIND_LOW_X10 = [(0.27,39.7),(0.30,38.8),(0.33,37.2),(0.35,36.5),(0.38,37.8),(0.42,36.8),(0.45,38.2),(0.50,38.5),
 (0.53,37.4),(0.58,37.0),(0.61,36.0),(0.66,35.5),(0.70,34.0),(0.73,32.0),(0.77,30.5),(0.81,28.0),(0.85,25.5),
 (0.89,24.0),(0.92,25.0),(0.96,26.5),(1.00,27.2),(1.04,28.0),(1.08,29.5),(1.12,31.0),(1.16,32.8),(1.20,32.5),
 (1.23,31.2),(1.27,30.0),(1.31,28.5),(1.35,27.0),(1.40,25.8),(1.45,25.0),(1.50,24.2),(1.54,25.0),(1.59,27.0),
 (1.64,29.5),(1.68,31.5),(1.73,33.0),(1.77,34.5),(1.81,35.5),(1.85,36.8),(1.89,37.5),(1.93,38.2),(1.97,36.0),
 (2.00,34.0),(2.04,32.0),(2.08,29.5),(2.12,27.0),(2.15,24.5),(2.18,22.5),(2.21,23.5),(2.24,25.0),(2.28,27.5),
 (2.31,30.0),(2.35,32.0),(2.39,34.0),(2.43,34.8),(2.47,34.5),(2.50,32.5),(2.54,30.0),(2.58,28.0),(2.62,26.0),
 (2.66,26.8),(2.70,27.5),(2.74,29.0),(2.78,30.0),(2.82,29.8),(2.85,29.0),(2.89,27.5),(2.93,26.0),(2.97,25.5),
 (3.01,26.5),(3.05,27.5),(3.08,28.5),(3.12,29.5),(3.16,30.0),(3.20,30.8),(3.24,31.5),(3.28,32.5),(3.31,33.0),
 (3.35,33.8),(3.39,34.5),(3.43,35.2),(3.47,36.0),(3.51,37.2),(3.55,38.0),(3.60,39.3),
 (22.07,39.5),(22.12,37.5),(22.16,35.5),(22.19,34.0),(22.23,33.5),(22.26,33.0),(22.30,31.5),(22.34,30.5),
 (22.38,29.0),(22.41,28.0),(22.45,26.5),(22.48,25.0),(22.52,23.0),(22.56,21.5),(22.60,20.5),(22.63,20.0),
 (22.67,20.8),(22.71,21.5),(22.75,23.0),(22.79,24.5),(22.83,26.5),(22.86,28.0),(22.90,29.5),(22.94,31.5),
 (22.98,33.0),(23.02,34.5),(23.06,35.5),(23.10,35.5),(23.13,34.5),(23.17,33.0),(23.21,30.5),(23.25,28.0),
 (23.29,26.0),(23.33,24.0),(23.37,22.0),(23.40,20.0),(23.43,17.5),(23.46,15.0),(23.49,14.2),(23.52,14.0),
 (23.55,18.0),(23.58,22.0),(23.61,24.5),(23.64,26.0),(23.67,25.5),(23.71,25.0),(23.75,23.0),(23.79,21.0),
 (23.82,19.5),(23.85,18.5),(23.88,21.5),(23.92,24.5),(23.95,27.0),(23.98,28.5),(24.01,29.5),(24.04,30.0)]

HHMM_TICKS = list(range(0, 2401, 100))
HOUR_TICKS_SUN = list(range(3, 23))
HOUR_TICKS_DIR = list(range(0, 25))
HOUR_TICKS_SPD = list(range(0, 25))

TITLE = "Wokingham AWS 12 May 2015"

# ======================= LAYOUT HELPERS =======================
W = 1000
REF_H = 5000        # geometry below is expressed in the reference's 1000x5000 pixel grid
VIEW_H = 4096       # the browser's real viewport height; the page re-fits to the actual one
FONT = "Liberation Sans, Arial, Helvetica, sans-serif"
DOT = "1px,2px"


def fx(px):
    return px / W


def fy(py):
    return 1 - py / REF_H


def split(pairs):
    return [p[0] for p in pairs], [p[1] for p in pairs]


fig = go.Figure()
shapes, annots = [], []


def rect(x0, y0, x1, y1, fill="rgba(0,0,0,0)", line="black", lw=1, shadow=False):
    if shadow:
        shapes.append(dict(type="rect", xref="paper", yref="paper", x0=fx(x0 + 3), x1=fx(x1 + 3),
                           y0=fy(y1 + 3), y1=fy(y0 + 3), fillcolor="#7f7f7f", line=dict(width=0), layer="above"))
    shapes.append(dict(type="rect", xref="paper", yref="paper", x0=fx(x0), x1=fx(x1), y0=fy(y1), y1=fy(y0),
                       fillcolor=fill, line=dict(color=line, width=lw), layer="above"))


def seg(x0, y0, x1, y1, color="black", width=1):
    shapes.append(dict(type="line", xref="paper", yref="paper", x0=fx(x0), x1=fx(x1), y0=fy(y0), y1=fy(y1),
                       line=dict(color=color, width=width), layer="above"))


def text(x, y, s, size=12, anchor="center", bold=False, angle=0, color="black"):
    annots.append(dict(xref="paper", yref="paper", x=fx(x), y=fy(y), text=s, showarrow=False,
                       xanchor=anchor, yanchor="middle", textangle=angle,
                       font=dict(size=size, color=color, family=FONT, weight="bold" if bold else "normal")))


def tickfont(size=12, bold=False):
    return dict(family=FONT, size=size, color="black", weight="bold" if bold else "normal")


def xaxis(px0, px1, rng, tickvals, ticktext=None, grid=None, size=12, bold=False, standoff=6):
    d = dict(domain=[fx(px0), fx(px1)], range=rng, tickmode="array", tickvals=tickvals,
             ticktext=ticktext if ticktext is not None else [str(v) for v in tickvals],
             showline=True, linecolor="black", linewidth=1, mirror=True, zeroline=False, ticks="",
             tickfont=tickfont(size, bold), ticklabelstandoff=standoff, fixedrange=True)
    if grid:
        d.update(showgrid=True, gridcolor=grid.get("color", "black"), gridwidth=grid.get("width", 1),
                 griddash=grid.get("dash", "solid"))
    else:
        d.update(showgrid=False)
    return d


def yaxis(py0, py1, rng, dtick, grid=None, minor=None, size=12, bold=False, standoff=10, **kw):
    d = dict(domain=[fy(py1), fy(py0)], range=rng, tickmode="linear", tick0=rng[0], dtick=dtick,
             showline=True, linecolor="black", linewidth=1, mirror=True, zeroline=False, ticks="",
             tickfont=tickfont(size, bold), ticklabelstandoff=standoff, fixedrange=True)
    if grid:
        d.update(showgrid=True, gridcolor=grid.get("color", "black"), gridwidth=grid.get("width", 1),
                 griddash=grid.get("dash", "solid"))
    else:
        d.update(showgrid=False)
    if minor:
        d["minor"] = dict(dtick=minor["dtick"], showgrid=True, gridcolor=minor.get("color", "black"),
                          gridwidth=minor.get("width", 1), griddash=minor.get("dash", "solid"), ticks="")
    d.update(kw)
    return d


def stagger(vals, fmt=str):
    return [fmt(v) if i % 2 == 0 else "<br>" + fmt(v) for i, v in enumerate(vals)]


lay = {}

# ======================= PANEL 1 : temperatures =======================
rect(35, 11, 966, 529)
lay["xaxis"] = xaxis(95, 960, [-72, 2520], HHMM_TICKS, grid=dict(color="black", width=1))
lay["yaxis"] = yaxis(58, 486, [-4, 20], 2, grid=dict(color="black", width=2.5))
for series, w in ((DEW_POINT, 1), (WET_BULB, 1), (AIR_TEMP, 2)):
    t, v = split(series)
    fig.add_trace(go.Scatter(x=t, y=v, mode="lines", line=dict(color="black", width=w), xaxis="x", yaxis="y"))
rect(133, 11, 581, 57, fill="white", shadow=True)
text(357, 34, TITLE, size=23)
rect(861, 17, 966, 108, fill="white", shadow=True)
for yy, lab, w in ((35, "Air temp", 3), (63, "Wet bulb", 1), (90, "Dew point", 1)):
    seg(864, yy, 880, yy, width=w)
    text(886, yy, lab, size=15, anchor="left")
text(51, 271, "Temperature (Deg C)", size=13, angle=-90, color="#222")
text(528, 521, "Time (GMT)", size=13)

# ======================= PANEL 2 : RH =======================
rect(33, 543, 962, 1058)
lay["xaxis2"] = xaxis(104, 947, [-77, 2533], HHMM_TICKS, grid=dict(color="black", dash=DOT))
lay["yaxis2"] = yaxis(564, 1016, [10, 100], 10, grid=dict(color="black", dash=DOT),
                      minor=dict(dtick=5, dash=DOT))
t, v = split(REL_HUM)
fig.add_trace(go.Scatter(x=t, y=v, mode="lines", line=dict(color="black", width=2), xaxis="x2", yaxis="y2"))
rect(245, 926, 304, 962, fill="white", shadow=True)
seg(251, 945, 266, 945, width=3)
text(271, 944, "RH", size=15, anchor="left")
rect(140, 964, 464, 1014, fill="white", shadow=True)
text(302, 989, TITLE, size=19)
text(53, 789, "Relative humidity (%)", size=13, angle=-90, color="#222")
text(526, 1052, "Time (GMT)", size=13)

# ======================= PANEL 3 : mixing ratio =======================
rect(40, 1075, 969, 1601)
lay["xaxis3"] = xaxis(94, 958, [-75, 2530], HHMM_TICKS, grid=dict(color="black", dash=DOT))
lay["yaxis3"] = yaxis(1084, 1554, [2.5, 7], 0.5, grid=dict(color="black", dash=DOT))
t, v = split(MIX_RATIO)
fig.add_trace(go.Scatter(x=t, y=v, mode="lines", line=dict(color="black", width=2), xaxis="x3", yaxis="y3"))
rect(381, 1075, 730, 1106, fill="white", shadow=True)
text(555, 1091, TITLE, size=19)
rect(273, 1508, 660, 1548, fill="white", shadow=True)
seg(274, 1530, 288, 1530, width=3)
text(295, 1528, "Humidity mixing ratio, g water vapour per kg of air", size=15, anchor="left")
text(48, 1318, "Humidity mixing ratio (grammes)", size=13, angle=-90, color="#222")
text(526, 1592, "Time (GMT)", size=13)

# ======================= PANEL 4 : pressure =======================
rect(45, 1620, 969, 2159)
lay["xaxis4"] = xaxis(140, 962, [-73, 2550], HHMM_TICKS, ticktext=stagger(HHMM_TICKS),
                      grid=dict(color="black", dash=DOT), standoff=5)
lay["yaxis4"] = yaxis(1667, 2083, [1015, 1024], 1, grid=dict(color="black", dash=DOT))
t, v = split(MSL_PRESSURE)
fig.add_trace(go.Scatter(x=t, y=v, mode="lines", line=dict(color="black", width=1.5), xaxis="x4", yaxis="y4"))
rect(327, 1624, 484, 1667, fill="white", shadow=True)
seg(343, 1647, 358, 1647, width=3)
text(364, 1645, "MSL Pressure", size=15, anchor="left")
rect(514, 1620, 843, 1670, fill="white", shadow=True)
text(678, 1645, TITLE, size=19)
text(82, 1874, "Pressure (mbar)", size=13, angle=-90, color="#222")
text(549, 2138, "Time (GMT)", size=13)

# ======================= PANEL 5 : grass temperature =======================
rect(52, 2175, 974, 2715)
lay["xaxis5"] = xaxis(110, 900, [-79, 2511], HHMM_TICKS, ticktext=stagger(HHMM_TICKS),
                      grid=dict(color="black", dash=DOT), standoff=4)
lay["yaxis5"] = yaxis(2226, 2656, [-20, 20], 2, grid=dict(color="black", dash=DOT), size=13, bold=True,
                      zeroline=True, zerolinecolor="black", zerolinewidth=3)
lay["yaxis10"] = dict(domain=[fy(2656), fy(2226)], range=[-18, 2], tickmode="linear", tick0=-18, dtick=1,
                      overlaying="y5", anchor="x5", side="right", showgrid=False, zeroline=False,
                      showline=False, ticks="", tickfont=tickfont(12), ticklabelstandoff=10, fixedrange=True)
shapes.append(dict(type="line", xref="x5", yref="y5", x0=-79, x1=2511, y0=16, y1=16,
                   line=dict(color="black", width=1.5), layer="below"))
t, v = split(GRASS_AIR_DIFF)
fig.add_trace(go.Scatter(x=t, y=v, mode="lines", line=dict(color="#8c8c8c", width=1), xaxis="x5", yaxis="y10"))
t, v = split(GRASS_TEMP)
fig.add_trace(go.Scatter(x=t, y=v, mode="lines", line=dict(color="black", width=2), xaxis="x5", yaxis="y5"))
rect(330, 2175, 669, 2222, fill="white", shadow=True)
text(500, 2198, TITLE, size=19)
rect(429, 2565, 608, 2647, fill="white", shadow=True)
seg(447, 2593, 462, 2593, width=3)
text(469, 2591, "Grass level temp", size=15, anchor="left")
seg(447, 2622, 462, 2622, color="#8c8c8c", width=1)
text(469, 2620, "Grass-air diff", size=15, anchor="left")
text(60, 2441, "Grass Temp (Deg C)", size=13, angle=-90, color="#222")
text(947, 2440, "Grass Temp minus Air Temp (Deg C)", size=13, angle=-90, color="#222")
text(504, 2707, "Time GMT", size=13)

# ======================= PANEL 6 : rainfall =======================
rect(46, 2731, 967, 3262)
lay["xaxis6"] = xaxis(98, 931, [-75, 2525], HHMM_TICKS, ticktext=stagger(HHMM_TICKS),
                      grid=dict(color="black", dash=DOT), standoff=6)
lay["yaxis6"] = yaxis(2740, 3146, [0, 10], 2, grid=dict(color="black", width=3),
                      minor=dict(dtick=1, dash=DOT))
t, v = split(RAINFALL)
fig.add_trace(go.Scatter(x=t, y=v, mode="lines", line=dict(color="black", width=3), xaxis="x6", yaxis="y6"))
rect(123, 2733, 441, 2804, fill="white", line="white", lw=0)
rect(444, 2733, 913, 2793, fill="white", line="white", lw=0)
text(281, 2752, TITLE, size=19)
text(279, 2782, "Rainfall (TBR)", size=19)
text(679, 2759, "Corrected to equivalent of the standard gauge", size=17)
text(56, 2942, "Rainfall accumulation (mm)", size=13, angle=-90, color="#222")
text(515, 3201, "Time (GMT)", size=13)

# ======================= PANEL 7 : sunshine =======================
rect(40, 3290, 979, 3807)
lay["xaxis7"] = xaxis(119, 972, [2.36, 22.62], HOUR_TICKS_SUN, grid=dict(color="black", dash="4px,3px"),
                      size=16, bold=True, standoff=6)
lay["yaxis7"] = dict(domain=[fy(3756), fy(3301)], range=[0, 150], tickmode="array", tickvals=[0, 50, 100],
                     ticktext=["0", "", "100"], showline=True, linecolor="black", linewidth=1, mirror=True,
                     zeroline=False, ticks="outside", ticklen=6, tickcolor="black", tickfont=tickfont(12),
                     showgrid=True, gridcolor="#9a9a9a", griddash=DOT, ticklabelstandoff=4, fixedrange=True)
t, v = split(SUNSHINE)
fig.add_trace(go.Scatter(x=t, y=v, mode="lines", line=dict(color="black", width=2), xaxis="x7", yaxis="y7"))
rect(340, 3292, 705, 3366, fill="white", line="white", lw=0)
rect(356, 3366, 691, 3442, fill="white", line="white", lw=0)
text(521, 3311, "Wokingham sunshine", size=18)
text(521, 3343, "12-May", size=25)
text(521, 3384, "2015", size=15, bold=True)
text(521, 3413, "Total 8.42 Hrs", size=23)
text(67, 3526, "Sunshine (per cent per minute)", size=13, angle=-90, color="#222")
text(545, 3799, "Time (GMT)", size=13)

# ======================= PANEL 8 : wind direction =======================
rect(42, 3828, 973, 4362)
lay["xaxis8"] = xaxis(126, 956, [-0.74, 24.86], HOUR_TICKS_DIR, grid=dict(color="black", width=1), standoff=7)
lay["yaxis8"] = yaxis(3848, 4313, [0, 360], 30, grid=dict(color="black", width=3),
                      minor=dict(dtick=10, width=1))
t, v = split(WIND_DIR)
fig.add_trace(go.Scatter(x=t, y=v, mode="markers", marker=dict(symbol="diamond", size=10, color="black"),
                         xaxis="x8", yaxis="y8"))
rect(402, 3830, 695, 3876, fill="white", line="white", lw=0)
text(547, 3846, "Wokingham,&nbsp; 12 May 2015", size=16, bold=True)
text(547, 3867, "5 minute mean wind direction", size=13)
text(75, 4079, "Direction, degrees true", size=13, angle=-90, color="#222")
text(542, 4349, "Time (GMT)", size=13)

# ======================= PANEL 9 : wind speed =======================
rect(40, 4377, 971, 4893)
spd_text = [("%02d:00" % h) if h < 24 else "" for h in HOUR_TICKS_SPD]
spd_text = [s if i % 2 == 0 else "<br>" + s for i, s in enumerate(spd_text)]
lay["xaxis9"] = xaxis(98, 965, [-0.72, 25.35], HOUR_TICKS_SPD, ticktext=spd_text,
                      grid=dict(color="black", dash=DOT), standoff=5)
lay["yaxis9"] = yaxis(4422, 4817, [0, 50], 10, grid=dict(color="black", dash=DOT),
                      minor=dict(dtick=5, dash=DOT))
gust_t, gust_v = [], []
for h, row in enumerate(WIND_GUST_ROWS):
    start = 0 if h == 0 else 1
    for k, val in enumerate(row):
        gust_t.append(h + (k + start) / 10)
        gust_v.append(val)
fig.add_trace(go.Scatter(x=gust_t, y=gust_v, mode="lines", line=dict(color="#4a4a4a", width=1),
                         xaxis="x9", yaxis="y9"))
t, v = split(WIND_MEAN)
fig.add_trace(go.Scatter(x=t, y=v, mode="lines", line=dict(color="black", width=2), xaxis="x9", yaxis="y9"))
t, v = split(WIND_LOW_X10)
fig.add_trace(go.Scatter(x=t, y=v, mode="markers",
                         marker=dict(symbol="diamond", size=9, color="#c8c8c8", line=dict(color="#505050", width=1)),
                         xaxis="x9", yaxis="y9"))
rect(100, 4379, 444, 4421, fill="white", line="white", lw=0)
text(274, 4398, "Wokingham,&nbsp; 12 May 2015", size=19)
text(585, 4400, "Wind speed, 10 min mean / max gust<br>"
     "<span style='font-size:12px'>Speeds below 4 kt shown at x10 scale</span>", size=13)
rect(739, 4381, 947, 4406, fill="white", shadow=True)
seg(770, 4394, 780, 4394, width=3)
text(786, 4393, "Speed x 1", size=11, anchor="left")
cx, cy, r = 855, 4393, 4
shapes.append(dict(type="path", xref="paper", yref="paper",
                   path=f"M {fx(cx-r)},{fy(cy)} L {fx(cx)},{fy(cy-r)} L {fx(cx+r)},{fy(cy)} L {fx(cx)},{fy(cy+r)} Z",
                   fillcolor="white", line=dict(color="#505050", width=1), layer="above"))
text(866, 4393, "Speed /10", size=11, anchor="left")
text(54, 4620, "Speed (knots)", size=13, angle=-90, color="#222")
text(532, 4875, "Time (GMT)", size=13)

# anchors
for i in range(1, 10):
    xn = "xaxis" if i == 1 else f"xaxis{i}"
    yn = "yaxis" if i == 1 else f"yaxis{i}"
    lay[xn]["anchor"] = "y" if i == 1 else f"y{i}"
    lay[yn]["anchor"] = "x" if i == 1 else f"x{i}"

fig.update_layout(**lay)
fig.update_layout(width=W, height=VIEW_H, margin=dict(l=0, r=0, t=0, b=0), showlegend=False,
                  paper_bgcolor="white", plot_bgcolor="white", shapes=shapes, annotations=annots,
                  font=dict(family=FONT, color="black"))

# no page margin, and fit the whole 9-panel sheet to the window's real height (at most 5000 px)
FIT = ("document.body.style.margin='0';"
       "var gd=document.getElementById('{plot_id}');"
       "var h=Math.min(window.innerHeight||%d,%d);"
       "if(h>0&&h!==%d){gd.style.height=h+'px';Plotly.relayout(gd,{height:h});}" % (VIEW_H, REF_H, VIEW_H))
fig.write_html("out.html", post_script=FIT)
